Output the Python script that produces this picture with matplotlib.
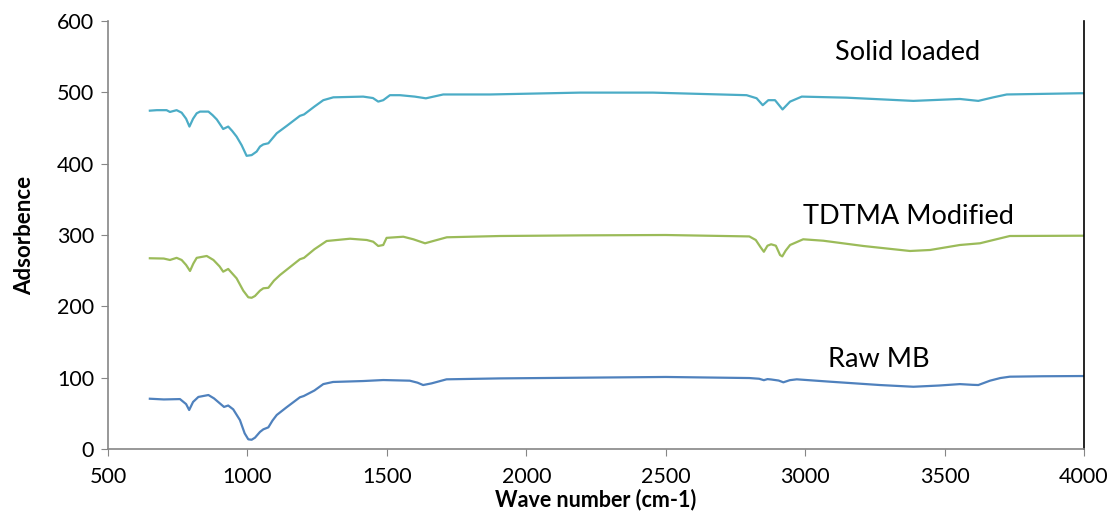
import numpy as np
import matplotlib
matplotlib.use("Agg")
import matplotlib.pyplot as plt

plt.rcParams['font.family'] = ['Lato', 'DejaVu Sans']

# Raw MB
raw_wave = [650, 700, 758, 780, 791, 805, 824, 860, 880, 895, 916, 931, 949, 973, 990,
            1003, 1015, 1027, 1045, 1057, 1075, 1090, 1105, 1140, 1188, 1202, 1240, 1272,
            1307, 1415, 1487, 1582, 1610, 1630, 1660, 1714, 1905, 2200, 2500, 2800, 2835,
            2852, 2865, 2878, 2905, 2922, 2945, 2970, 3089, 3268, 3388, 3480, 3555, 3600,
            3621, 3663, 3700, 3734, 3850, 3986, 4000]
raw_abs = [70.5, 69.5, 70, 63, 54.7, 66, 73, 75.7, 71, 66, 59, 61, 55.6, 40.6, 22,
           13.6, 13, 15.9, 24, 27.6, 30.4, 40, 47.7, 58.4, 72.5, 74.3, 82, 91,
           94, 95.3, 96.7, 95.8, 93, 89.7, 92, 97.7, 99, 100, 101, 99.5, 98.5,
           96.5, 98, 97.5, 96, 93.5, 96.5, 97.7, 94.4, 89.7, 87.3, 89, 91, 90,
           89.7, 95.8, 99.5, 101.4, 102, 102.3, 102.3]

# TDTMA Modified
mod_wave = [650, 700, 722, 746, 764, 780, 794, 806, 818, 854, 878, 900, 913, 931, 961,
            985, 1003, 1015, 1027, 1045, 1057, 1075, 1095, 1117, 1188, 1203, 1240, 1284,
            1368, 1428, 1451, 1469, 1487, 1499, 1559, 1595, 1637, 1670, 1715, 1906, 2200,
            2500, 2800, 2823, 2840, 2852, 2865, 2878, 2895, 2910, 2918, 2930, 2946, 2993,
            3065, 3209, 3376, 3448, 3555, 3627, 3675, 3734, 3986, 4000]
mod_abs = [267.4, 267, 265, 268, 265, 258, 249.6, 260, 268, 270.6, 265, 256, 248.6, 252.4, 239.3,
           222, 212.7, 212, 214.5, 222, 225.3, 226, 236, 244, 266, 268, 280, 291.6,
           294.8, 293, 290.6, 284.6, 286, 296, 297.6, 294, 288.4, 292, 296.8, 298.6, 299.5,
           300, 298, 293, 283, 276.5, 285, 287, 285, 272, 270, 278, 286, 294,
           292, 284.6, 277.6, 279, 286, 288.4, 293, 298.6, 299, 299]

# Solid loaded
sol_wave = [650, 675, 710, 722, 746, 764, 780, 792, 805, 818, 830, 860, 875, 890, 913,
            931, 945, 961, 979, 997, 1015, 1033, 1045, 1057, 1075, 1105, 1141, 1188, 1203,
            1240, 1272, 1308, 1415, 1450, 1469, 1487, 1511, 1547, 1600, 1640, 1702, 1870,
            2193, 2454, 2790, 2826, 2848, 2868, 2892, 2919, 2946, 2988, 3149, 3388, 3555,
            3621, 3675, 3723, 3986, 4000]
sol_abs = [474.3, 475, 475, 472.5, 475, 471.5, 463, 452, 463, 470.6, 473, 473, 468, 462, 448.6,
           452, 446, 438, 426, 411, 412, 417, 424, 427, 428.6, 442.6, 453, 467, 469,
           480, 489, 493, 494, 492, 487, 489, 496, 496, 494, 491.6, 497, 497,
           499.6, 499.6, 496, 491.7, 482, 489, 489, 476, 487, 494, 492.5, 488, 490.7,
           488, 493, 497, 498.7, 498.7]

fig = plt.figure(figsize=(11.16, 5.12), dpi=100)
ax = fig.add_axes([0.0968, 0.123, 0.8745, 0.836])

ax.plot(raw_wave, raw_abs, color="#4F81BD", linewidth=1.6)
ax.plot(mod_wave, mod_abs, color="#9BBB59", linewidth=1.6)
ax.plot(sol_wave, sol_abs, color="#4BACC6", linewidth=1.6)

ax.text(3107, 556, "Solid loaded", fontsize=19.5, va="center", ha="left")
ax.text(2992, 326, "TDTMA Modified", fontsize=19.5, va="center", ha="left")
ax.text(3082, 125, "Raw MB", fontsize=19.5, va="center", ha="left")

ax.set_xlim(500, 4000)
ax.set_ylim(0, 600)
ax.set_xticks(np.arange(500, 4001, 500))
ax.set_yticks(np.arange(0, 601, 100))
ax.tick_params(axis="both", labelsize=15.5, color="#868686", length=5)
ax.tick_params(axis="x", pad=8)
ax.tick_params(axis="y", pad=5)

ax.spines["top"].set_visible(False)
ax.spines["left"].set_color("#868686")
ax.spines["bottom"].set_color("#868686")
ax.spines["right"].set_color("black")
ax.spines["left"].set_linewidth(1.2)
ax.spines["bottom"].set_linewidth(1.2)
ax.spines["right"].set_linewidth(1.2)

ax.set_xlabel("Wave number (cm-1)", fontsize=15.5, fontweight="bold")
ax.set_ylabel("Adsorbence", fontsize=16, fontweight="bold")
ax.xaxis.label.set_va("center")
ax.yaxis.label.set_va("center")
ax.xaxis.set_label_coords(0.5, -0.117)
ax.yaxis.set_label_coords(-0.085, 0.5)

fig.savefig("out.png", dpi=100)
